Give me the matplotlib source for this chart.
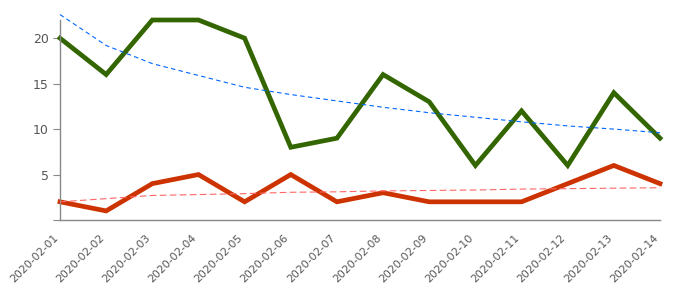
import matplotlib
matplotlib.use("Agg")
import matplotlib.pyplot as plt
from matplotlib.transforms import ScaledTranslation

dates = ["2020-02-01", "2020-02-02", "2020-02-03", "2020-02-04", "2020-02-05",
         "2020-02-06", "2020-02-07", "2020-02-08", "2020-02-09", "2020-02-10",
         "2020-02-11", "2020-02-12", "2020-02-13", "2020-02-14"]
green = [20, 16, 22, 22, 20, 8, 9, 16, 13, 6, 12, 6, 14, 9]
red = [2, 1, 4, 5, 2, 5, 2, 3, 2, 2, 2, 4, 6, 4]
green_trend = [22.6, 19.2, 17.2, 15.9, 14.6, 13.8, 13.1, 12.4, 11.8, 11.3, 10.8, 10.35, 10.0, 9.6]
red_trend = [2.0, 2.35, 2.7, 2.8, 2.9, 3.05, 3.1, 3.2, 3.25, 3.3, 3.4, 3.45, 3.5, 3.55]

fig = plt.figure(figsize=(7, 3), dpi=100)
ax = fig.add_axes([60 / 700, 80 / 300, 600 / 700, 200 / 300])

x = list(range(len(dates)))
ax.plot(x, green_trend, color="#0066ff", lw=0.8, ls=(0, (4, 3)), clip_on=False, zorder=3)
ax.plot(x, red_trend, color="#ff6666", lw=0.8, ls=(0, (6, 3)), clip_on=False, zorder=3)
ax.plot(x, green, color="#336600", lw=3.4, solid_joinstyle="miter", clip_on=False, zorder=2)
ax.plot(x, red, color="#cc3300", lw=3.4, solid_joinstyle="miter", clip_on=False, zorder=2)

ax.set_xlim(0, len(dates) - 1)
ax.set_ylim(0, 22)
ax.set_xticks(x)
ax.set_xticklabels(dates, rotation=45, ha="right")
ax.set_yticks([0, 5, 10, 15, 20])
ax.set_yticklabels(["", "5", "10", "15", "20"])

# nudge the date labels a little to the left, like the original
shift = ScaledTranslation(-4 / 72, 0, fig.dpi_scale_trans)
for lbl in ax.get_xticklabels():
    lbl.set_transform(lbl.get_transform() + shift)

for s in ["top", "right"]:
    ax.spines[s].set_visible(False)
for s in ["left", "bottom"]:
    ax.spines[s].set_color("#888888")
    ax.spines[s].set_linewidth(1)

ax.tick_params(axis="y", length=5, color="#888888", labelcolor="#555555", labelsize=9, pad=3)
ax.tick_params(axis="x", length=0, labelcolor="#555555", labelsize=7.8, pad=9)

fig.savefig("out.png", dpi=100)
